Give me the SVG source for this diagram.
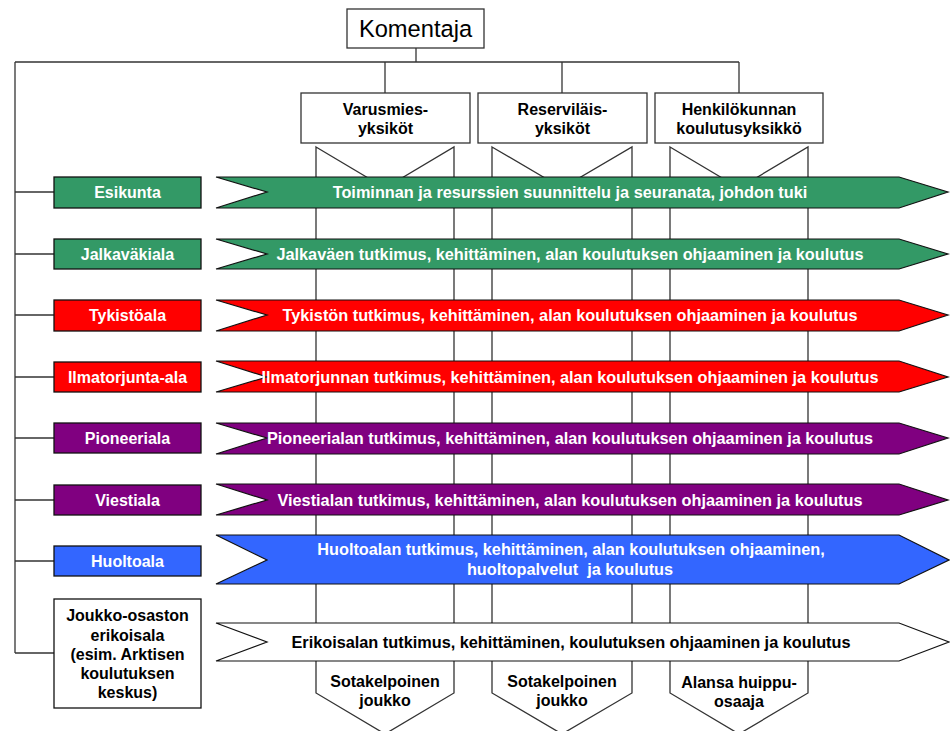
<svg xmlns="http://www.w3.org/2000/svg" width="950" height="731" viewBox="0 0 950 731">
  <style>
    .ln { stroke: #333; stroke-width: 1.3; fill: none; }
    .box { fill: #fff; stroke: #333; stroke-width: 1.3; }
    .col { fill: #fff; stroke: #333; stroke-width: 1.3; }
    .arrow { stroke: #111; stroke-width: 1.2; }
    .lbox { stroke: #111; stroke-width: 1.3; }
    .t { font-family: "Liberation Sans", Arial, sans-serif; font-weight: bold; font-size: 16px; text-anchor: middle; }
    .a { font-size: 16.3px; }
    .w { fill: #fff; }
    .k { fill: #000; }
    .green { fill: #339966; }
    .red { fill: #ff0000; }
    .purple { fill: #800080; }
    .blue { fill: #3366ff; }
    .white { fill: #fff; }
  </style>

  <!-- connectors -->
  <g id="connectors">
    <line class="ln" x1="416" y1="48" x2="416" y2="62"/>
    <line class="ln" x1="15" y1="62" x2="739" y2="62"/>
    <line class="ln" x1="385" y1="62" x2="385" y2="93"/>
    <line class="ln" x1="562" y1="62" x2="562" y2="93"/>
    <line class="ln" x1="739" y1="62" x2="739" y2="93"/>
    <line class="ln" x1="15" y1="62" x2="15" y2="653"/>
    <line class="ln" x1="15" y1="192" x2="54" y2="192"/>
    <line class="ln" x1="15" y1="254" x2="54" y2="254"/>
    <line class="ln" x1="15" y1="315" x2="54" y2="315"/>
    <line class="ln" x1="15" y1="377" x2="54" y2="377"/>
    <line class="ln" x1="15" y1="438" x2="54" y2="438"/>
    <line class="ln" x1="15" y1="500" x2="54" y2="500"/>
    <line class="ln" x1="15" y1="561" x2="54" y2="561"/>
    <line class="ln" x1="15" y1="653" x2="54" y2="653"/>
  </g>

  <!-- commander -->
  <g id="komentaja">
    <rect class="box" x="347" y="9" width="137" height="39"/>
    <text x="415.5" y="37" font-family="Liberation Sans, Arial, sans-serif" font-size="23.7" text-anchor="middle">Komentaja</text>
  </g>

  <!-- unit boxes -->
  <g id="varusmies">
    <rect class="box" x="301" y="93" width="169" height="50"/>
    <text class="t k" x="385.5" y="115">Varusmies-</text>
    <text class="t k" x="385.5" y="134">yksiköt</text>
  </g>
  <g id="reservi">
    <rect class="box" x="478" y="93" width="169" height="50"/>
    <text class="t k" x="562.5" y="115">Reserviläis-</text>
    <text class="t k" x="562.5" y="134">yksiköt</text>
  </g>
  <g id="henkilokunta">
    <rect class="box" x="655" y="93" width="168" height="50"/>
    <text class="t k" x="739" y="115">Henkilökunnan</text>
    <text class="t k" x="739" y="134">koulutusyksikkö</text>
  </g>

  <!-- vertical columns (chevron bands) -->
  <g id="column-1">
    <polygon class="col" points="316,147 385,188 454,147 454,693 385,734 316,693"/>
    <text class="t k" x="385" y="687">Sotakelpoinen</text>
    <text class="t k" x="385" y="706">joukko</text>
  </g>
  <g id="column-2">
    <polygon class="col" points="492,147 562,188 632,147 632,693 562,734 492,693"/>
    <text class="t k" x="562" y="687">Sotakelpoinen</text>
    <text class="t k" x="562" y="706">joukko</text>
  </g>
  <g id="column-3">
    <polygon class="col" points="670,147 739,188 808,147 808,693 739,734 670,693"/>
    <text class="t k" x="739" y="688">Alansa huippu-</text>
    <text class="t k" x="739" y="707">osaaja</text>
  </g>

  <!-- branch rows -->
  <g id="esikunta">
    <rect class="lbox green" x="54" y="177" width="147" height="31"/>
    <text class="t w" x="127.5" y="198">Esikunta</text>
    <polygon class="arrow green" points="216,177 899,177 948,192 899,208 216,208 267,192"/>
    <text class="t a w" x="570" y="198">Toiminnan ja resurssien suunnittelu ja seuranata, johdon tuki</text>
  </g>
  <g id="jalkavakiala">
    <rect class="lbox green" x="54" y="239" width="147" height="30"/>
    <text class="t w" x="127.5" y="260">Jalkaväkiala</text>
    <polygon class="arrow green" points="216,239 899,239 948,254 899,269 216,269 267,254"/>
    <text class="t a w" x="570" y="260">Jalkaväen tutkimus, kehittäminen, alan koulutuksen ohjaaminen ja koulutus</text>
  </g>
  <g id="tykistoala">
    <rect class="lbox red" x="54" y="300" width="147" height="31"/>
    <text class="t w" x="127.5" y="321">Tykistöala</text>
    <polygon class="arrow red" points="216,300 899,300 948,315 899,331 216,331 267,315"/>
    <text class="t a w" x="570" y="321">Tykistön tutkimus, kehittäminen, alan koulutuksen ohjaaminen ja koulutus</text>
  </g>
  <g id="ilmatorjunta">
    <rect class="lbox red" x="54" y="362" width="147" height="30"/>
    <text class="t w" x="127.5" y="383">Ilmatorjunta-ala</text>
    <polygon class="arrow red" points="216,361 899,361 948,377 899,392 216,392 267,377"/>
    <text class="t a w" x="570" y="383">Ilmatorjunnan tutkimus, kehittäminen, alan koulutuksen ohjaaminen ja koulutus</text>
  </g>
  <g id="pioneeriala">
    <rect class="lbox purple" x="54" y="423" width="147" height="30"/>
    <text class="t w" x="127.5" y="444">Pioneeriala</text>
    <polygon class="arrow purple" points="216,423 899,423 948,438 899,454 216,454 267,438"/>
    <text class="t a w" x="570" y="444">Pioneerialan tutkimus, kehittäminen, alan koulutuksen ohjaaminen ja koulutus</text>
  </g>
  <g id="viestiala">
    <rect class="lbox purple" x="54" y="485" width="147" height="30"/>
    <text class="t w" x="127.5" y="506">Viestiala</text>
    <polygon class="arrow purple" points="216,484 899,484 948,500 899,515 216,515 267,500"/>
    <text class="t a w" x="570" y="506">Viestialan tutkimus, kehittäminen, alan koulutuksen ohjaaminen ja koulutus</text>
  </g>
  <g id="huoltoala">
    <rect class="lbox blue" x="54" y="546" width="147" height="30"/>
    <text class="t w" x="127.5" y="567">Huoltoala</text>
    <polygon class="arrow blue" points="216,535 899,535 949,560 899,584 216,584 267,560"/>
    <text class="t a w" x="571" y="555">Huoltoalan tutkimus, kehittäminen, alan koulutuksen ohjaaminen,</text>
    <text class="t a w" x="570" y="575" xml:space="preserve">huoltopalvelut  ja koulutus</text>
  </g>
  <g id="erikoisala">
    <rect class="lbox white" x="54" y="599" width="147" height="109"/>
    <text class="t k" x="127.5" y="621">Joukko-osaston</text>
    <text class="t k" x="127.5" y="641">erikoisala</text>
    <text class="t k" x="127.5" y="660">(esim. Arktisen</text>
    <text class="t k" x="127.5" y="679">koulutuksen</text>
    <text class="t k" x="127.5" y="698">keskus)</text>
    <polygon class="arrow white" points="216,623 899,623 949,642 899,661 216,661 267,642"/>
    <text class="t a k" x="571" y="648">Erikoisalan tutkimus, kehittäminen, koulutuksen ohjaaminen ja koulutus</text>
  </g>
</svg>
